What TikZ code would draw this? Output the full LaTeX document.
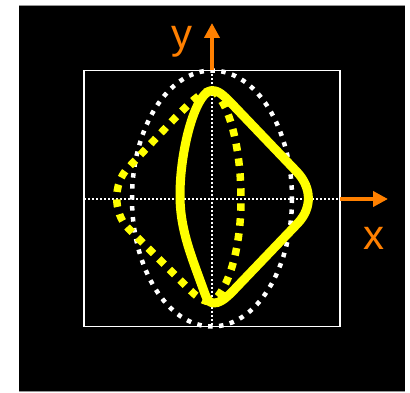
\documentclass[tikz,border=0pt]{standalone}
\usepackage{fontspec}
\setmainfont{Liberation Sans}
\usetikzlibrary{arrows.meta}
\definecolor{axorange}{RGB}{255,128,0}
\definecolor{ylw}{RGB}{255,255,0}
\definecolor{edgegray}{RGB}{150,150,150}
\tikzset{
  axisarrow/.style={draw=axorange,line width=4pt,-{Triangle[length=15pt,width=15pt]}},
  axlabel/.style={text=axorange,font=\fontsize{42}{42}\selectfont,inner sep=0pt,anchor=base},
  guide/.style={draw=white,line width=1.6pt,dash pattern=on 2pt off 2pt},
  whitedots/.style={draw=white,line width=4.5pt,dash pattern=on 4.5pt off 6.5pt},
  yellowdots/.style={draw=ylw,line width=7.5pt,dash pattern=on 7.5pt off 7.5pt},
  yellowsolid/.style={draw=ylw,line width=9pt,line join=round},
  frame/.style={draw=white,line width=1.6pt}
}
\begin{document}
\begin{tikzpicture}[x=1pt,y=-1pt]
\useasboundingbox (0,0) rectangle (410,393);
\fill[black] (19,5.5) rectangle (405,391.5);
\draw[edgegray,line width=1pt] (19,5.5) -- (405,5.5);
\draw[edgegray,line width=1pt] (19,391.5) -- (405,391.5);
% coordinates
\coordinate (sqL) at (84,199);
\coordinate (sqR) at (340,199);
\coordinate (sqT) at (212,70.5);
\coordinate (sqB) at (212,326.5);
\coordinate (xtip) at (388,199);
\coordinate (ytip) at (212,23);
% white dotted ellipse
\draw[whitedots] (212,198.5) ellipse [x radius=80, y radius=128];
% guide lines
\draw[guide] (sqL) -- (sqR);
\draw[guide] (sqT) -- (sqB);
% frame
\draw[frame] (84,70.5) rectangle (340,326.5);
% yellow dotted lens
\draw[yellowdots] (212,90) .. controls (200,92) and (190,103) .. (175,118) -- (128,168) .. controls (113,183) and (113,213) .. (128,228) -- (190,290) .. controls (198,298) and (204,302) .. (212,302);
\draw[yellowdots] (212,90) .. controls (228,100) and (241,145) .. (241,199) .. controls (241,250) and (228,290) .. (212,302);
% yellow solid shape
\draw[yellowsolid] (180,195) .. controls (180,150) and (195,95) .. (210,91) .. controls (218,89) and (224,96) .. (232,104) -- (297,172) .. controls (312,188) and (312,208) .. (298,223) -- (232,292) .. controls (224,300) and (219,303) .. (214,303) .. controls (210,303) and (207,300) .. (205,294) .. controls (191,255) and (180,230) .. (180,195) -- cycle;
% axes arrows
\draw[axisarrow] (sqR) -- (xtip);
\draw[axisarrow] (sqT) -- (ytip);
\node[axlabel] (xl) at (373.5,249) {x};
\node[axlabel] (yl) at (182,49) {y};
\end{tikzpicture}
\end{document}
